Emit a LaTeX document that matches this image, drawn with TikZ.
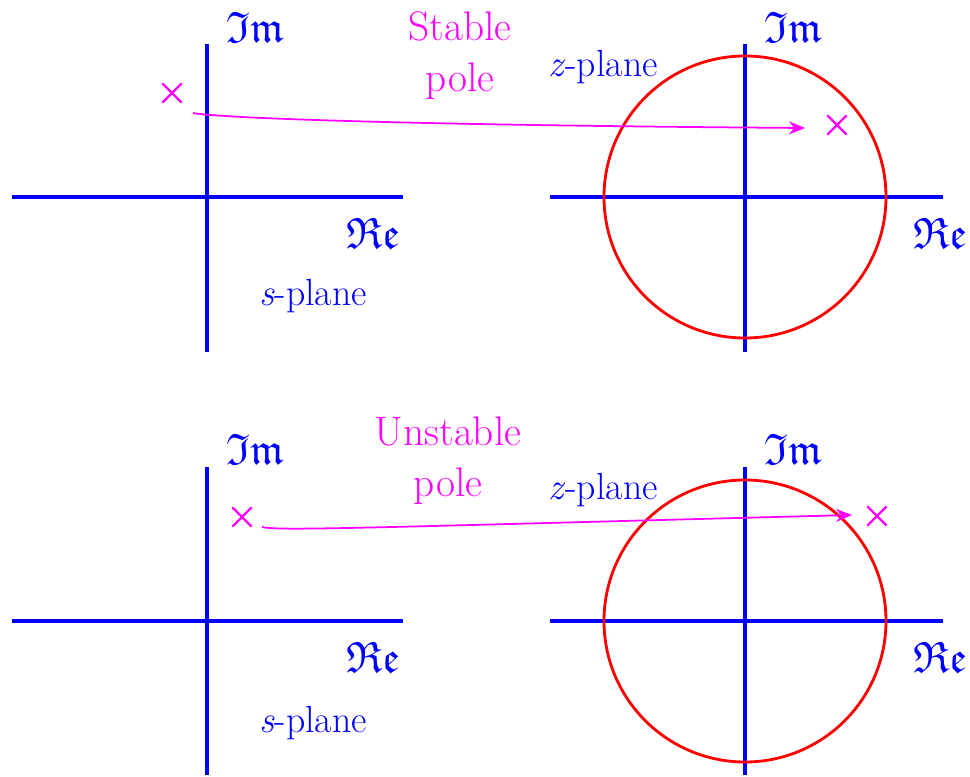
\documentclass[tikz,border=0pt]{standalone}
\usepackage{amsmath,amssymb}
\usepackage{tikz}
\usetikzlibrary{arrows.meta,positioning,shapes.misc}
\definecolor{plAxis}{RGB}{0,0,255}
\definecolor{plPole}{RGB}{255,0,255}
\definecolor{plCirc}{RGB}{255,0,0}

\begin{document}
\begin{tikzpicture}[
  font=\fontsize{21.5}{25}\selectfont,
  axis/.style={draw=plAxis, line width=2pt},
  unit/.style={draw=plCirc, line width=1.6pt},
  lbl/.style={text=plAxis, inner sep=1pt},
  frak/.style={lbl, font=\fontsize{25}{28}\selectfont},
  note/.style={text=plPole, align=center, font=\fontsize{23.5}{29}\selectfont},
  pole/.style={cross out, draw=plPole, line width=1.3pt, minimum size=0.34cm, inner sep=0pt},
  arr/.style={-{Stealth[length=3.2mm,width=2.6mm]}, draw=plPole, line width=1pt}
]
\useasboundingbox (0,0) rectangle (19.4,-15.54);

% Stable case: s-plane
\draw[axis] (0.24,-3.94) -- (8.06,-3.94);
\draw[axis] (4.14,-0.88) -- (4.14,-7.04);
\node[frak] (im1) at (5.1,-0.54) {$\mathfrak{Im}$};
\node[frak] (re1) at (7.46,-4.66) {$\mathfrak{Re}$};
\node[lbl] (sp1) at (6.26,-5.92) {\textit{s}-plane};
\node[pole] (ps1) at (3.44,-1.86) {};

% Stable case: z-plane
\draw[axis] (11.0,-3.94) -- (18.86,-3.94);
\draw[axis] (14.9,-0.88) -- (14.9,-7.04);
\draw[unit] (14.9,-3.94) circle (2.82);
\node[frak] (im2) at (15.86,-0.54) {$\mathfrak{Im}$};
\node[frak] (re2) at (18.8,-4.66) {$\mathfrak{Re}$};
\node[lbl] (zp1) at (12.06,-1.34) {\textit{z}-plane};
\node[pole] (pz1) at (16.74,-2.5) {};

\node[note] (stab) at (9.2,-1.12) {Stable\\pole};

% Unstable case: s-plane
\draw[axis] (0.24,-12.42) -- (8.06,-12.42);
\draw[axis] (4.14,-9.34) -- (4.14,-15.5);
\node[frak] (im3) at (5.1,-8.98) {$\mathfrak{Im}$};
\node[frak] (re3) at (7.46,-13.14) {$\mathfrak{Re}$};
\node[lbl] (sp2) at (6.26,-14.46) {\textit{s}-plane};
\node[pole] (ps2) at (4.84,-10.34) {};

% Unstable case: z-plane
\draw[axis] (11.0,-12.42) -- (18.86,-12.42);
\draw[axis] (14.9,-9.34) -- (14.9,-15.5);
\draw[unit] (14.9,-12.42) circle (2.82);
\node[frak] (im4) at (15.86,-8.98) {$\mathfrak{Im}$};
\node[frak] (re4) at (18.8,-13.14) {$\mathfrak{Re}$};
\node[lbl] (zp2) at (12.06,-9.8) {\textit{z}-plane};
\node[pole] (pz2) at (17.54,-10.32) {};

\node[note] (unst) at (8.96,-9.22) {Unstable\\pole};

% Mapping arrows
\coordinate (a1) at ([shift={(0.42,-0.4)}]ps1.center);
\coordinate (b1) at ([shift={(-0.64,-0.06)}]pz1.center);
\coordinate (a2) at ([shift={(0.4,-0.2)}]ps2.center);
\coordinate (b2) at ([shift={(-0.5,0.02)}]pz2.center);
\draw[arr] (a1) .. controls (4.4,-2.36) and (8,-2.5) .. (b1);
\draw[arr] (a2) .. controls (5.6,-10.62) and (7,-10.56) .. (b2);

\end{tikzpicture}
\end{document}
